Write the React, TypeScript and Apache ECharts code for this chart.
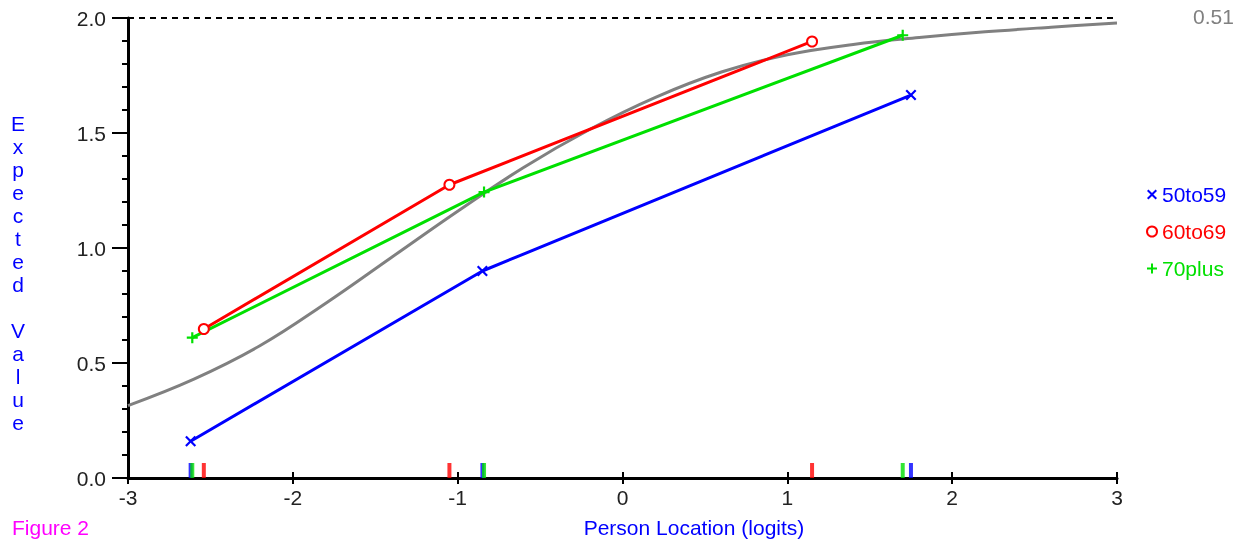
import React, { useEffect, useRef } from "react";
import * as echarts from "echarts";

// Class-interval observed means (x = person location, y = observed mean)
const g1Name = "50to59";
const g1X = [-2.62, -0.85, 1.75];
const g1Y = [0.16, 0.9, 1.665];

const g2Name = "60to69";
const g2X = [-2.54, -1.05, 1.15];
const g2Y = [0.648, 1.275, 1.898];

const g3Name = "70plus";
const g3X = [-2.61, -0.84, 1.7];
const g3Y = [0.61, 1.243, 1.925];

// Expected value (model) curve
const iccX = [-3.0, -2.6, -2.2, -1.8, -1.4, -1.0, -0.6, -0.2, 0.2, 0.6, 1.0, 1.4, 1.8, 2.2, 2.6, 3.0];
const iccY = [0.315, 0.43, 0.575, 0.76, 0.96, 1.16, 1.35, 1.515, 1.655, 1.765, 1.84, 1.885, 1.915, 1.94, 1.96, 1.978];

const maxScore = 2;
const cornerLabel = "0.51";
const xTitle = "Person Location (logits)";
const yTitle = "Expected Value";
const figLabel = "Figure 2";

const FONT = "'Liberation Sans', Arial, sans-serif";
const FS = 21;
const BLUE = "#0000ff";
const RED = "#ff0000";
const GREEN = "#00e000";
const GRAY = "#808080";

const X_PATH =
  "path://M0,1.4 L1.4,0 L5,3.6 L8.6,0 L10,1.4 L6.4,5 L10,8.6 L8.6,10 L5,6.4 L1.4,10 L0,8.6 L3.6,5 Z";
const PLUS_PATH = "path://M4,0 H6 V4 H10 V6 H6 V10 H4 V6 H0 V4 H4 Z";

const zip = (xs: number[], ys: number[]) => xs.map((x, i) => [x, ys[i]]);

export default function App() {
  const ref = useRef<HTMLDivElement>(null);

  useEffect(() => {
    if (!ref.current) return;
    const chart = echarts.init(ref.current, undefined, { renderer: "svg" });

    const rug = (name: string, xs: number[], color: string) => ({
      name,
      type: "scatter",
      data: xs.map((x) => [x, 0]),
      symbol: "rect",
      symbolSize: [4, 15],
      symbolOffset: [0, -7.5],
      itemStyle: { color },
      z: 4,
      silent: true,
    });

    const groupLine = (name: string, xs: number[], ys: number[], color: string, symbol: string, size: number) => ({
      name,
      type: "line",
      data: zip(xs, ys),
      symbol,
      symbolSize: size,
      showSymbol: true,
      lineStyle: { color, width: 3 },
      itemStyle: { color, borderColor: color, borderWidth: symbol === "emptyCircle" ? 2.5 : 0 },
      z: 5,
    });

    const option: any = {
      animation: false,
      grid: { left: 128, right: 128, top: 18, bottom: 62, containLabel: false },
      xAxis: [
        {
          type: "value",
          min: -3,
          max: 3,
          interval: 1,
          position: "bottom",
          axisLine: { onZero: false, lineStyle: { color: "#000", width: 3 } },
          axisTick: { length: 6, lineStyle: { color: "#000", width: 2 } },
          axisLabel: { margin: 9, fontSize: FS, color: "#222", fontFamily: FONT },
          splitLine: { show: false },
        },
        {
          type: "value",
          min: -3,
          max: 3,
          interval: 1,
          position: "bottom",
          axisLine: { show: false, onZero: false },
          axisTick: { inside: true, length: 6, lineStyle: { color: "#000", width: 2 } },
          axisLabel: { show: false },
          splitLine: { show: false },
        },
      ],
      yAxis: {
        type: "value",
        min: 0,
        max: 2,
        interval: 0.5,
        position: "left",
        axisLine: { show: true, onZero: false, lineStyle: { color: "#000", width: 3 } },
        axisTick: { show: true, length: 16, lineStyle: { color: "#000", width: 2 } },
        minorTick: { show: true, splitNumber: 5, length: 6, lineStyle: { color: "#000", width: 2 } },
        axisLabel: {
          margin: 22,
          fontSize: FS,
          color: "#222",
          fontFamily: FONT,
          formatter: (v: number) => v.toFixed(1),
        },
        splitLine: { show: false },
      },
      legend: {
        orient: "vertical",
        left: 1141,
        top: 179,
        itemWidth: 10,
        itemHeight: 10,
        itemGap: 16,
        textStyle: { fontSize: FS, fontFamily: FONT },
        data: [
          { name: g1Name, icon: X_PATH, textStyle: { color: BLUE } },
          { name: g2Name, icon: "emptyCircle", textStyle: { color: RED } },
          { name: g3Name, icon: PLUS_PATH, textStyle: { color: GREEN } },
        ],
      },
      series: [
        {
          name: "Expected",
          type: "line",
          data: zip(iccX, iccY),
          smooth: 0.4,
          symbol: "none",
          lineStyle: { color: GRAY, width: 3 },
          z: 2,
          markLine: {
            silent: true,
            symbol: "none",
            label: { show: false },
            lineStyle: { color: "#000", width: 2, type: [6, 5] },
            data: [{ yAxis: maxScore }],
          },
        },
        groupLine(g1Name, g1X, g1Y, BLUE, X_PATH, 11),
        groupLine(g2Name, g2X, g2Y, RED, "emptyCircle", 10),
        groupLine(g3Name, g3X, g3Y, GREEN, PLUS_PATH, 11),
        rug("rug1", g1X, BLUE),
        rug("rug2", g2X, RED),
        rug("rug3", g3X, GREEN),
      ],
      graphic: [
        {
          type: "text",
          left: 1193,
          top: 6,
          style: { text: cornerLabel, fill: GRAY, font: `${FS}px ${FONT}` },
        },
        {
          type: "text",
          x: 694,
          y: 527,
          style: {
            text: xTitle,
            fill: BLUE,
            font: `${FS}px ${FONT}`,
            textAlign: "center",
            textVerticalAlign: "middle",
          },
        },
        {
          type: "text",
          x: 12,
          y: 527,
          style: { text: figLabel, fill: "#ff00ff", font: `${FS}px ${FONT}`, textVerticalAlign: "middle" },
        },
        {
          type: "text",
          x: 18,
          y: 112,
          style: {
            text: yTitle.split("").join("\n"),
            fill: BLUE,
            font: `${FS}px ${FONT}`,
            lineHeight: 23,
            textAlign: "center",
          },
        },
      ],
    };

    chart.setOption(option);
    return () => chart.dispose();
  }, []);

  return (
    <div
      ref={ref}
      style={{ position: "fixed", left: 0, top: 0, width: 1245, height: 540 }}
    />
  );
}
